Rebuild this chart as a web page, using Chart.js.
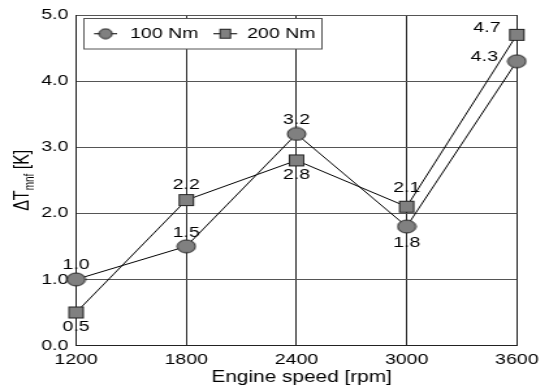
<!DOCTYPE html>
<html>
<head>
<meta charset="utf-8">
<script src="https://cdn.jsdelivr.net/npm/chart.js@4.4.0/dist/chart.umd.min.js"></script>
<style>
  html, body { margin: 0; padding: 0; background: #fff; overflow: hidden; }
  #wrap { width: 549px; height: 388px; overflow: hidden; }
  /* the drawing is laid out on a narrower canvas and widened horizontally */
  #c { display: block; transform: scaleX(1.3009); transform-origin: 0 0; }
</style>
</head>
<body>
<div id="wrap"><canvas id="c" width="422" height="388" style="width:422px;height:388px"></canvas></div>
<script>
// Engine speed categories [rpm]
const engineSpeed = [1200, 1800, 2400, 3000, 3600];
// Temperature rise of the manifold [K] per load case
const dT100 = [1.0, 1.5, 3.2, 1.8, 4.3];
const dT200 = [0.5, 2.2, 2.8, 2.1, 4.7];
// Axis ticks
const yTicks = [0, 1, 2, 3, 4, 5];
const seriesNames = ['100 Nm', '200 Nm'];

const FONT = '"Liberation Sans", Arial, Helvetica, sans-serif';

function ellipseMarker(w, h) {
  const c = document.createElement('canvas');
  c.width = w + 2; c.height = h + 2;
  const g = c.getContext('2d');
  g.beginPath();
  g.ellipse(c.width / 2, c.height / 2, w / 2, h / 2, 0, 0, Math.PI * 2);
  g.fillStyle = '#808080'; g.fill();
  g.lineWidth = 1; g.strokeStyle = '#222'; g.stroke();
  return c;
}
function squareMarker(w, h) {
  const c = document.createElement('canvas');
  c.width = w + 2; c.height = h + 2;
  const g = c.getContext('2d');
  g.fillStyle = '#808080';
  g.fillRect(1, 1, w, h);
  g.lineWidth = 1; g.strokeStyle = '#222';
  g.strokeRect(1.5, 1.5, w - 1, h - 1);
  return c;
}
const circleImg = ellipseMarker(14, 13);
const squareImg = squareMarker(12, 12);
const legendCircle = ellipseMarker(10, 10);
const legendSquare = squareMarker(9, 10);

// value label placement: [dx, dy] from the point centre
const labelOffsets = [
  [[0, -14.5], [0, -13], [0, -14], [0, 16], [-25, -4]],
  [[0, 14], [0, -15.5], [0, 14], [0, -19], [-23, -6.5]]
];

const valueLabels = {
  id: 'valueLabels',
  afterDatasetsDraw(chart) {
    const ctx = chart.ctx;
    ctx.save();
    ctx.font = '15px ' + FONT;
    ctx.fillStyle = '#000';
    ctx.textAlign = 'center';
    ctx.textBaseline = 'middle';
    chart.data.datasets.forEach((ds, i) => {
      chart.getDatasetMeta(i).data.forEach((pt, j) => {
        const [dx, dy] = labelOffsets[i][j];
        ctx.fillText(ds.data[j].y.toFixed(1), pt.x + dx, pt.y + dy);
      });
    });
    ctx.restore();
  }
};

const framing = {
  id: 'framing',
  afterDraw(chart) {
    const ctx = chart.ctx;
    const area = chart.chartArea;
    ctx.save();
    ctx.fillStyle = '#000';

    // x-axis title
    ctx.font = '16px ' + FONT;
    ctx.textAlign = 'center';
    ctx.textBaseline = 'alphabetic';
    ctx.fillText('Engine speed [rpm]', (area.left + area.right) / 2 + 4, 381.5);

    // y-axis title with subscript
    ctx.translate(18, (area.top + area.bottom) / 2);
    ctx.rotate(-Math.PI / 2);
    const big = '16px ' + FONT, small = '10px ' + FONT;
    ctx.font = big; const w1 = ctx.measureText('\u0394T').width;
    ctx.font = small; const w2 = ctx.measureText('mnf').width;
    ctx.font = big; const w3 = ctx.measureText(' [K]').width;
    let x = -(w1 + w2 + w3) / 2;
    ctx.textAlign = 'left';
    ctx.textBaseline = 'middle';
    ctx.font = big; ctx.fillText('\u0394T', x, 0); x += w1;
    ctx.font = small; ctx.fillText('mnf', x, 5); x += w2;
    ctx.font = big; ctx.fillText(' [K]', x, 0);
    ctx.restore();

    // legend box
    ctx.save();
    const bx = 64.5, by = 18.5, bw = 183, bh = 30.5;
    ctx.fillStyle = '#fff';
    ctx.fillRect(bx, by, bw, bh);
    ctx.strokeStyle = '#555';
    ctx.lineWidth = 1;
    ctx.strokeRect(bx, by, bw, bh);
    const cy = by + bh / 2;
    const items = [
      { x0: 72.3, x1: 90, img: legendCircle, tx: 100 },
      { x0: 164, x1: 182.3, img: legendSquare, tx: 190 }
    ];
    ctx.font = '15px ' + FONT;
    ctx.textAlign = 'left';
    ctx.textBaseline = 'middle';
    items.forEach((it, i) => {
      ctx.strokeStyle = '#000';
      ctx.beginPath();
      ctx.moveTo(it.x0, cy); ctx.lineTo(it.x1, cy);
      ctx.stroke();
      const cx = (it.x0 + it.x1) / 2;
      ctx.drawImage(it.img, cx - it.img.width / 2, cy - it.img.height / 2);
      ctx.fillStyle = '#000';
      ctx.fillText(seriesNames[i], it.tx, cy + 0.5);
    });
    ctx.restore();
  }
};

new Chart(document.getElementById('c'), {
  type: 'line',
  data: {
    datasets: [
      {
        label: seriesNames[0],
        data: engineSpeed.map((s, i) => ({ x: s, y: dT100[i] })),
        borderColor: '#000', borderWidth: 1, tension: 0, clip: false,
        pointStyle: circleImg, pointRadius: 7
      },
      {
        label: seriesNames[1],
        data: engineSpeed.map((s, i) => ({ x: s, y: dT200[i] })),
        borderColor: '#000', borderWidth: 1, tension: 0, clip: false,
        pointStyle: squareImg, pointRadius: 6
      }
    ]
  },
  options: {
    responsive: false,
    devicePixelRatio: 1,
    animation: false,
    layout: { padding: { left: 0, right: 24.7, top: 15, bottom: 0 } },
    plugins: { legend: { display: false }, tooltip: { enabled: false } },
    scales: {
      x: {
        type: 'linear',
        min: engineSpeed[0], max: engineSpeed[engineSpeed.length - 1],
        afterBuildTicks: s => { s.ticks = engineSpeed.map(v => ({ value: v })); },
        afterFit: s => { s.height = 42.5; },
        ticks: { color: '#000', font: { family: FONT, size: 15 }, padding: 5, maxRotation: 0,
                 callback: v => String(v) },
        grid: { color: '#222', lineWidth: 1, drawTicks: false },
        border: { display: true, color: '#222' }
      },
      y: {
        min: 0, max: 5,
        afterBuildTicks: s => { s.ticks = yTicks.map(v => ({ value: v })); },
        afterFit: s => { s.width = 58.5; },
        ticks: { color: '#000', font: { family: FONT, size: 15 }, padding: 6,
                 callback: v => Number(v).toFixed(1) },
        grid: { color: '#555', lineWidth: 1, drawTicks: false },
        border: { display: true, color: '#222' }
      }
    }
  },
  plugins: [valueLabels, framing]
});
</script>
</body>
</html>
